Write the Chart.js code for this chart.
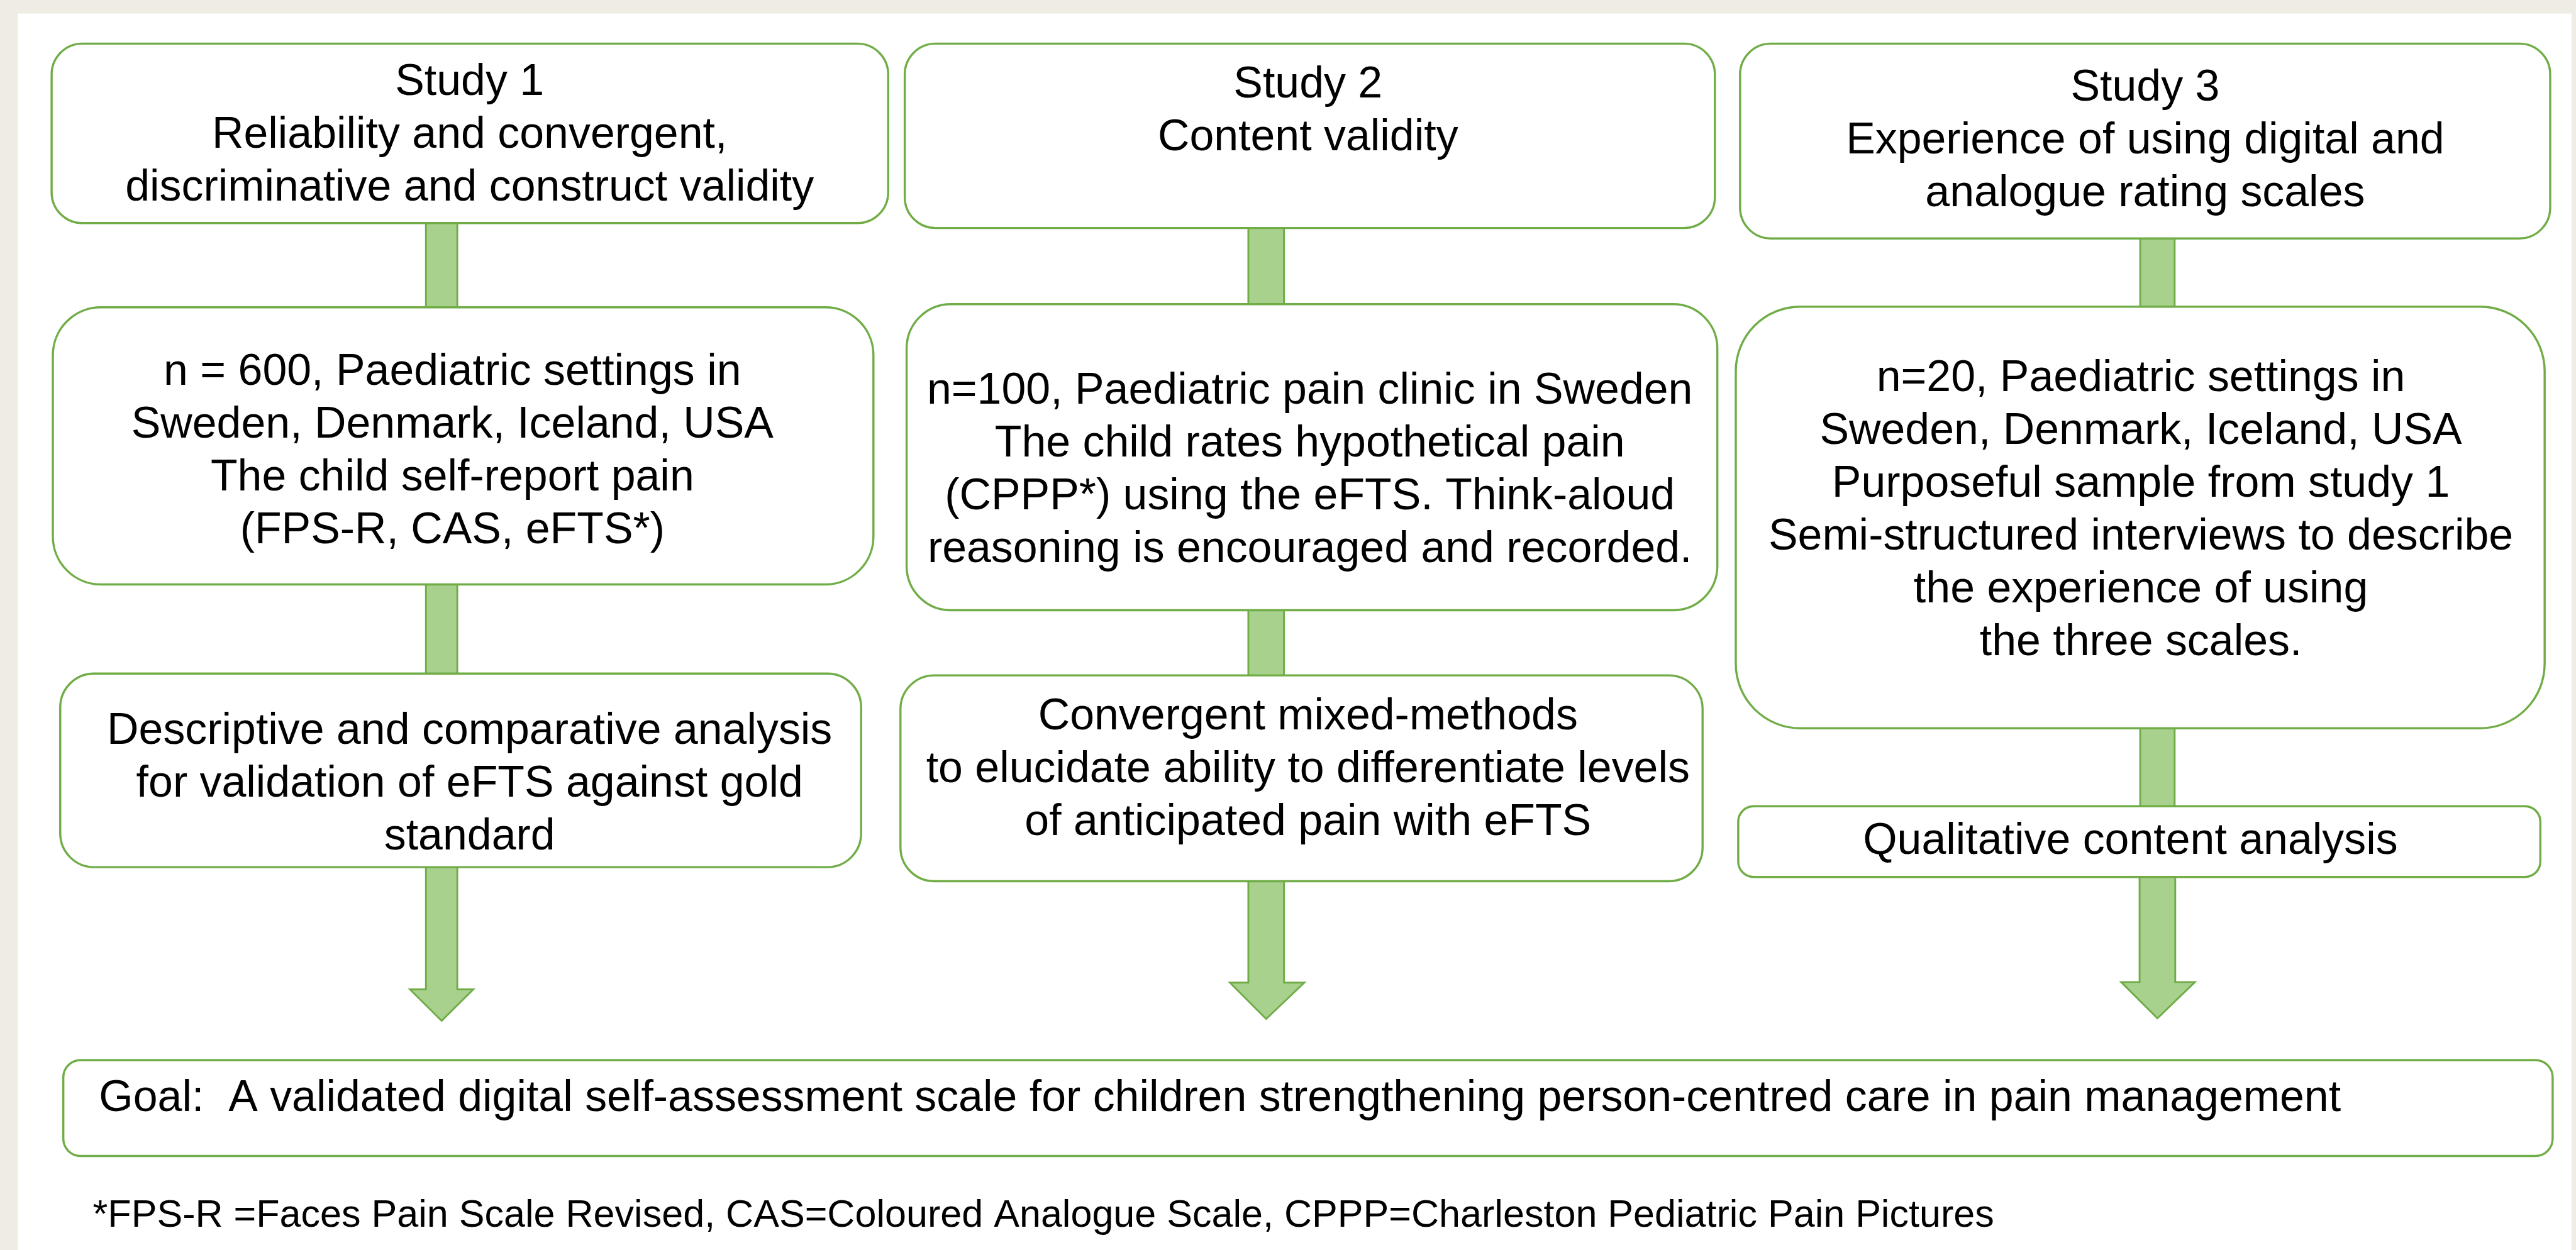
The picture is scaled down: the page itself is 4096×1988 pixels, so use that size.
<!DOCTYPE html>
<html>
<head>
<meta charset="utf-8">
<script src="https://cdn.jsdelivr.net/npm/chart.js@4.4.1/dist/chart.umd.min.js"></script>
<style>
html,body{margin:0;padding:0;background:#EFECE4;overflow:hidden;}
#wrap{width:4096px;height:1988px;}
canvas{display:block;}
</style>
</head>
<body>
<div id="wrap"><canvas id="c" width="4096" height="1988"></canvas></div>
<script>
// ---------- content (text) ----------
const studyHeadings = [
  ["Study 1", "Reliability and convergent,", "discriminative and construct validity"],
  ["Study 2", "Content validity"],
  ["Study 3", "Experience of using digital and", "analogue rating scales"]
];
const sampleDescriptions = [
  ["n = 600, Paediatric settings in", "Sweden, Denmark, Iceland, USA", "The child self-report pain", "(FPS-R, CAS, eFTS*)"],
  ["n=100, Paediatric pain clinic in Sweden", "The child rates hypothetical pain", "(CPPP*) using the eFTS. Think-aloud", "reasoning is encouraged and recorded."],
  ["n=20, Paediatric settings in", "Sweden, Denmark, Iceland, USA", "Purposeful sample from study 1", "Semi-structured interviews to describe", "the experience of using", "the three scales."]
];
const analysisMethods = [
  ["Descriptive and comparative analysis", "for validation of eFTS against gold", "standard"],
  ["Convergent mixed-methods", "to elucidate ability to differentiate levels", "of anticipated pain with eFTS"],
  ["Qualitative content analysis"]
];
const goalStatement = "Goal:  A validated digital self-assessment scale for children strengthening person-centred care in pain management";
const footnoteText = "*FPS-R =Faces Pain Scale Revised, CAS=Coloured Analogue Scale, CPPP=Charleston Pediatric Pain Pictures";

// ---------- layout (reference coordinate space 4191 x 2034) ----------
const REF_W = 4191, REF_H = 2034;
const panel = {x0: 29, y0: 22, x1: 4184, y1: 2040};
// [x0, y0, x1, y1, radius, textCenterX, firstBaseline]
const headingBoxes = [
  [84, 71, 1445, 363, 50, 764, 154],
  [1472, 71, 2790, 371, 50, 2128, 159],
  [2831, 71, 4149, 388, 50, 3490, 164]
];
const sampleBoxes = [
  [86, 500, 1421, 951, 78, 736, 626],
  [1475, 495, 2794, 993, 72, 2131, 657],
  [2824, 499, 4140, 1185, 105, 3483, 636]
];
const analysisBoxes = [
  [98, 1096, 1401, 1411, 55, 764, 1210],
  [1465, 1099, 2770, 1434, 55, 2128, 1187],
  [2828, 1312, 4133, 1427, 25, 3466, 1389]
];
const lineGap = 86;
const goalBox = [103, 1725, 4153, 1881, 28];
const goalTextPos = [161, 1808];
const footnotePos = [151, 1996];
// connectors: [xLeft, xRight, yTop, yBottom]
const connectors = [
  [693, 744, 363, 500], [693, 744, 951, 1096],
  [2031, 2089, 371, 495], [2031, 2089, 993, 1099],
  [3482, 3538, 388, 499], [3482, 3538, 1185, 1312]
];
// arrows: [shaftLeft, shaftRight, yTop, yHead, headLeft, headRight, yTip]
const arrows = [
  [693, 744, 1411, 1610, 667, 770, 1661],
  [2031, 2089, 1434, 1599, 2001, 2122, 1658],
  [3481, 3539, 1427, 1598, 3451, 3571, 1657]
];

const STROKE = '#70AD47';
const FILL = '#A9D18E';
const BG = '#EFECE4';
const FONT = '"Liberation Sans", Arial, Helvetica, sans-serif';
const mainFontPx = 71.5, footFontPx = 62.5;

function rr(ctx, x0, y0, x1, y1, r) {
  ctx.beginPath();
  ctx.moveTo(x0 + r, y0);
  ctx.lineTo(x1 - r, y0);
  ctx.arcTo(x1, y0, x1, y0 + r, r);
  ctx.lineTo(x1, y1 - r);
  ctx.arcTo(x1, y1, x1 - r, y1, r);
  ctx.lineTo(x0 + r, y1);
  ctx.arcTo(x0, y1, x0, y1 - r, r);
  ctx.lineTo(x0, y0 + r);
  ctx.arcTo(x0, y0, x0 + r, y0, r);
  ctx.closePath();
}

const flowPlugin = {
  id: 'flow',
  beforeDraw(chart) {
    const ctx = chart.ctx;
    const xs = chart.scales.x, ys = chart.scales.y;
    const X = v => xs.getPixelForValue(v);
    const Y = v => ys.getPixelForValue(v);
    const k = (X(1000) - X(0)) / 1000;
    ctx.save();
    ctx.fillStyle = BG;
    ctx.fillRect(0, 0, chart.width, chart.height);
    ctx.fillStyle = '#FFFFFF';
    ctx.fillRect(X(panel.x0), Y(panel.y0), X(panel.x1) - X(panel.x0), Y(panel.y1) - Y(panel.y0));

    // connectors
    ctx.lineWidth = 3 * k;
    ctx.strokeStyle = STROKE;
    ctx.fillStyle = FILL;
    connectors.forEach(c => {
      const x0 = X(c[0]), x1 = X(c[1]), y0 = Y(c[2]), y1 = Y(c[3]);
      ctx.fillRect(x0, y0, x1 - x0, y1 - y0);
      ctx.beginPath();
      ctx.moveTo(x0, y0); ctx.lineTo(x0, y1);
      ctx.moveTo(x1, y0); ctx.lineTo(x1, y1);
      ctx.stroke();
    });
    // arrows
    arrows.forEach(a => {
      ctx.beginPath();
      ctx.moveTo(X(a[0]), Y(a[2]));
      ctx.lineTo(X(a[0]), Y(a[3]));
      ctx.lineTo(X(a[4]), Y(a[3]));
      ctx.lineTo(X((a[0] + a[1]) / 2), Y(a[6]));
      ctx.lineTo(X(a[5]), Y(a[3]));
      ctx.lineTo(X(a[1]), Y(a[3]));
      ctx.lineTo(X(a[1]), Y(a[2]));
      ctx.fillStyle = FILL;
      ctx.fill();
      ctx.lineJoin = 'miter';
      ctx.stroke();
    });

    // boxes
    const drawBox = (b) => {
      rr(ctx, X(b[0]), Y(b[1]), X(b[2]), Y(b[3]), b[4] * k);
      ctx.fillStyle = '#FFFFFF';
      ctx.fill();
      ctx.lineWidth = 3.5 * k;
      ctx.strokeStyle = STROKE;
      ctx.stroke();
    };
    const drawLines = (lines, b) => {
      ctx.fillStyle = '#000000';
      ctx.font = (mainFontPx * k) + 'px ' + FONT;
      ctx.textAlign = 'center';
      ctx.textBaseline = 'alphabetic';
      lines.forEach((t, i) => ctx.fillText(t, X(b[5]), Y(b[6] + i * lineGap)));
    };
    headingBoxes.forEach((b, i) => { drawBox(b); drawLines(studyHeadings[i], b); });
    sampleBoxes.forEach((b, i) => { drawBox(b); drawLines(sampleDescriptions[i], b); });
    analysisBoxes.forEach((b, i) => { drawBox(b); drawLines(analysisMethods[i], b); });

    drawBox(goalBox);
    ctx.fillStyle = '#000000';
    ctx.textAlign = 'left';
    ctx.font = (mainFontPx * k) + 'px ' + FONT;
    ctx.fillText(goalStatement, X(goalTextPos[0]), Y(goalTextPos[1]));
    ctx.font = (footFontPx * k) + 'px ' + FONT;
    ctx.fillText(footnoteText, X(footnotePos[0]), Y(footnotePos[1]));
    ctx.restore();
  }
};

new Chart(document.getElementById('c'), {
  type: 'scatter',
  data: { datasets: [{ data: [], pointRadius: 0 }] },
  options: {
    responsive: false,
    devicePixelRatio: 1,
    animation: false,
    layout: { padding: 0 },
    plugins: { legend: { display: false }, tooltip: { enabled: false } },
    scales: {
      x: { type: 'linear', min: 0, max: REF_W, display: false },
      y: { type: 'linear', min: 0, max: REF_H, reverse: true, display: false }
    }
  },
  plugins: [flowPlugin]
});
</script>
</body>
</html>
